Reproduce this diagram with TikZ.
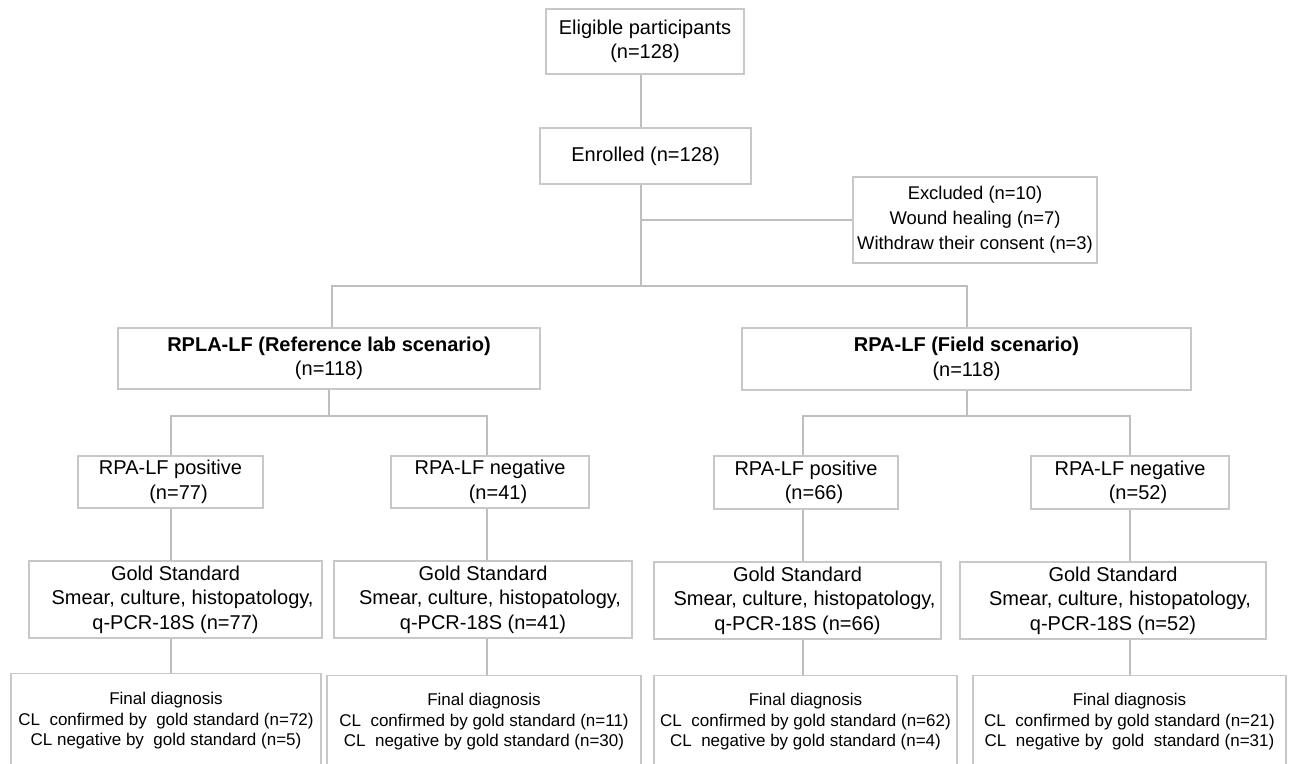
\documentclass[tikz,border=0pt]{standalone}
\usepackage{fontspec}
\setmainfont{Liberation Sans}
\definecolor{boxgray}{RGB}{200,200,200}
\definecolor{linegray}{RGB}{190,190,190}
\begin{document}
\begin{tikzpicture}[x=1pt,y=-1pt,
  box/.style={draw=boxgray, line width=1.2pt, inner sep=0pt, align=center, fill=white,
    font=\fontsize{20}{24.5}\selectfont},
  finbox/.style={box, font=\fontsize{17}{20.5}\selectfont},
  exbox/.style={box, font=\fontsize{18.4}{25}\selectfont},
  conn/.style={draw=linegray, line width=1.2pt}]
\useasboundingbox (0,0) rectangle (1290,763);
\clip (0,0) rectangle (1290,763);
% top
\node[box, minimum width=198pt, minimum height=65pt] (elig) at (645,41.5) {Eligible participants\\(n=128)};
\node[box, minimum width=211pt, minimum height=56pt] (enr) at (645.5,156) {Enrolled (n=128)};
\node[exbox, minimum width=244pt, minimum height=86pt] (excl) at (975,220) {Excluded (n=10)\\Wound healing (n=7)\\Withdraw their consent (n=3)};
% scenarios
\node[box, minimum width=422pt, minimum height=61pt] (rpla) at (329,358.5) {\textbf{RPLA-LF (Reference lab scenario)}\\(n=118)};
\node[box, minimum width=449pt, minimum height=62pt] (rpa) at (966.5,359) {\textbf{RPA-LF (Field scenario)}\\(n=118)};
% RPA-LF results
\node[box, minimum width=185pt, minimum height=52pt] (pos1) at (170.5,482) {RPA-LF positive\\\hspace*{16pt}(n=77)};
\node[box, minimum width=198pt, minimum height=52pt] (neg1) at (490,482) {RPA-LF negative\\\hspace*{16pt}(n=41)};
\node[box, minimum width=184pt, minimum height=53pt] (pos2) at (806,482.5) {RPA-LF positive\\\hspace*{16pt}(n=66)};
\node[box, minimum width=198pt, minimum height=53pt] (neg2) at (1130,482.5) {RPA-LF negative\\\hspace*{16pt}(n=52)};
% gold standard
\node[box, minimum width=293pt, minimum height=77pt] (gold1) at (175.5,599.5) {Gold Standard\\\hspace*{14pt}Smear, culture, histopatology,\\q-PCR-18S (n=77)};
\node[box, minimum width=298pt, minimum height=77pt] (gold2) at (483,599.5) {Gold Standard\\\hspace*{14pt}Smear, culture, histopatology,\\q-PCR-18S (n=41)};
\node[box, minimum width=287pt, minimum height=77pt] (gold3) at (797.5,600.5) {Gold Standard\\\hspace*{14pt}Smear, culture, histopatology,\\q-PCR-18S (n=66)};
\node[box, minimum width=306pt, minimum height=77pt] (gold4) at (1113,600.5) {Gold Standard\\\hspace*{14pt}Smear, culture, histopatology,\\q-PCR-18S (n=52)};
% final diagnosis
\node[finbox, minimum width=310pt, minimum height=95pt] (fin1) at (166,721) {Final diagnosis\\CL\ \ confirmed by\ \ gold standard (n=72)\\CL negative by\ \ gold standard (n=5)};
\node[finbox, minimum width=314pt, minimum height=93pt] (fin2) at (484,722) {Final diagnosis\\CL\ \ confirmed by gold standard (n=11)\\CL\ \ negative by gold standard (n=30)};
\node[finbox, minimum width=303pt, minimum height=93pt] (fin3) at (805.5,722) {Final diagnosis\\CL\ \ confirmed by gold standard (n=62)\\CL\ \ negative by gold standard (n=4)};
\node[finbox, minimum width=313pt, minimum height=93pt] (fin4) at (1129.5,722) {Final diagnosis\\CL\ \ confirmed by gold standard (n=21)\\CL\ \ negative by\ \ gold\ \ standard (n=31)};
% connector guide coordinates
\coordinate (s0) at (641,0);
\coordinate (jx) at (641,220);
\coordinate (j1) at (641,286);
\coordinate (a1) at (332,0);
\coordinate (b1) at (329,416);
\coordinate (b2) at (967,416);
\coordinate (c1) at (171,0);
\coordinate (c2) at (487,0);
\coordinate (c3) at (803,0);
\coordinate (c4) at (1130,0);
% connectors
\draw[conn] (elig.south -| s0) -- (enr.north -| s0);
\draw[conn] (enr.south -| s0) -- (j1);
\draw[conn] (jx) -- (excl.west);
\draw[conn] (rpla.north -| a1) |- (j1) -| (rpa.north -| b2);
\draw[conn] (rpla.south -| b1) -- (b1);
\draw[conn] (pos1.north -| c1) |- (b1) -| (neg1.north -| c2);
\draw[conn] (rpa.south -| b2) -- (b2);
\draw[conn] (pos2.north -| c3) |- (b2) -| (neg2.north -| c4);
\draw[conn] (pos1.south -| c1) -- (gold1.north -| c1);
\draw[conn] (gold1.south -| c1) -- (fin1.north -| c1);
\draw[conn] (neg1.south -| c2) -- (gold2.north -| c2);
\draw[conn] (gold2.south -| c2) -- (fin2.north -| c2);
\draw[conn] (pos2.south -| c3) -- (gold3.north -| c3);
\draw[conn] (gold3.south -| c3) -- (fin3.north -| c3);
\draw[conn] (neg2.south -| c4) -- (gold4.north -| c4);
\draw[conn] (gold4.south -| c4) -- (fin4.north -| c4);
\end{tikzpicture}
\end{document}
